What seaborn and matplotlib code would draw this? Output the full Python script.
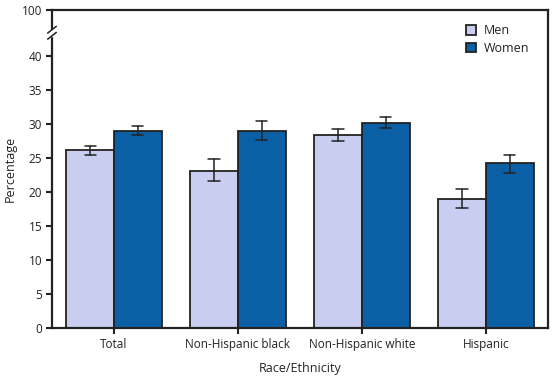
import numpy as np
import pandas as pd
import matplotlib
matplotlib.use('Agg')
import matplotlib.pyplot as plt
import seaborn as sns

# ── Data ──────────────────────────────────────────────
groups = ['Total', 'Non-Hispanic black', 'Non-Hispanic white', 'Hispanic']
sexes = ['Men', 'Women']
men = [26.1, 23.1, 28.4, 19.0]
women = [29.0, 29.0, 30.2, 24.2]
men_lo = [25.4, 21.6, 27.5, 17.6]
men_hi = [26.7, 24.8, 29.2, 20.4]
women_lo = [28.3, 27.6, 29.4, 22.8]
women_hi = [29.7, 30.4, 31.0, 25.4]

df = pd.DataFrame({
    'group': groups * 2,
    'sex': ['Men'] * 4 + ['Women'] * 4,
    'pct': men + women,
})

sns.set_style('white')
plt.rcParams['font.family'] = ['Open Sans', 'DejaVu Sans']

fig = plt.figure(figsize=(5.55, 3.8), dpi=100)
ax = fig.add_axes([0.0937, 0.137, 0.8933, 0.837])

sns.barplot(data=df, x='group', y='pct', hue='sex', hue_order=sexes,
            palette=['#c9cdf0', '#0b5fa5'], saturation=1, width=0.77, errorbar=None,
            edgecolor='#222222', linewidth=1.3, ax=ax, legend=True)

# error bars
los = [men_lo, women_lo]
his = [men_hi, women_hi]
for k, cont in enumerate(ax.containers):
    for i, bar in enumerate(cont):
        xc = bar.get_x() + bar.get_width() / 2
        ax.plot([xc, xc], [los[k][i], his[k][i]], color='#222222', lw=1.1, zorder=5)
        for yv in (los[k][i], his[k][i]):
            ax.plot([xc - 0.045, xc + 0.045], [yv, yv], color='#222222', lw=1.1, zorder=5)

top = 46.76
ax.set_xlim(-0.5, 3.5)
ax.set_ylim(0, top)
ax.set_yticks([0, 5, 10, 15, 20, 25, 30, 35, 40, top])
ax.set_yticklabels(['0', '5', '10', '15', '20', '25', '30', '35', '40', '100'])
ax.tick_params(axis='both', direction='out', length=4, width=1.5, color='#222222',
               labelsize=8.5, labelcolor='#222222', left=True, bottom=True, pad=3)
ax.set_xlabel('Race/Ethnicity', fontsize=9, color='#222222', labelpad=8)
ax.set_ylabel('Percentage', fontsize=9, color='#222222', labelpad=4)

for s in ax.spines.values():
    s.set_color('#222222')
    s.set_linewidth(1.6)

# axis break on the left spine
ybrk = 43.4
ax.add_patch(plt.Rectangle((-0.52, ybrk - 0.45), 0.04, 0.9, color='white',
                           clip_on=False, zorder=10, transform=ax.transData))
for dy in (-0.45, 0.45):
    ax.plot([-0.535, -0.465], [ybrk + dy - 0.5, ybrk + dy + 0.5], color='#222222',
            lw=1.1, clip_on=False, zorder=11)

leg = ax.legend(loc='upper right', bbox_to_anchor=(0.985, 0.99), frameon=False,
                fontsize=9, handlelength=0.8, handleheight=0.8, handletextpad=0.6,
                labelspacing=0.35)
for t in leg.get_texts():
    t.set_color('#222222')

fig.savefig('out.png', dpi=100)
